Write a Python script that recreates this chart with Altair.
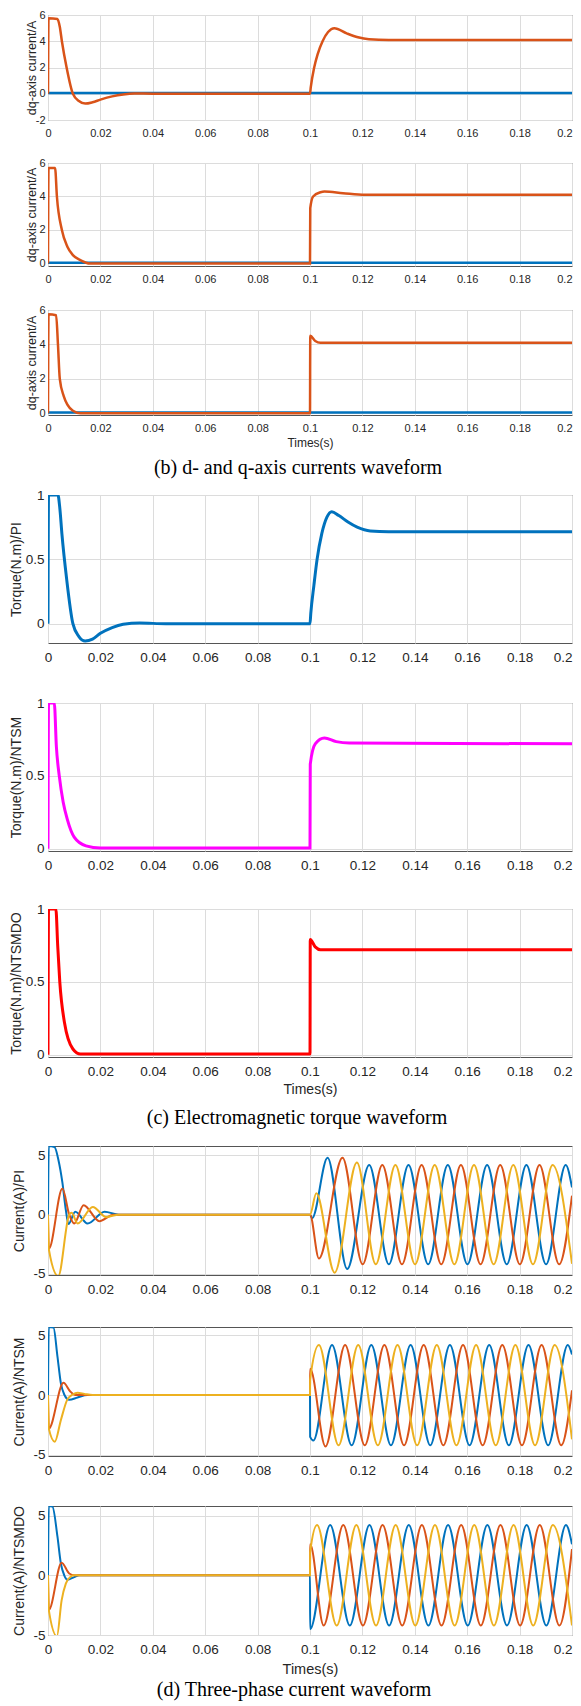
import altair as alt
import pandas as pd

# ---------------- data ----------------
X_TICKS = [0, 0.02, 0.04, 0.06, 0.08, 0.1, 0.12, 0.14, 0.16, 0.18, 0.2]

# (b) dq-axis currents: q-axis (orange) and d-axis (blue)
iq_pi_t = [0, 0.0002, 0.0036, 0.0045, 0.0053, 0.0071, 0.0095, 0.0118, 0.0142, 0.017, 0.02, 0.0245, 0.0287, 0.033, 0.04,
           0.1, 0.1003, 0.1016, 0.1029, 0.1048, 0.1069, 0.1093, 0.114, 0.1183, 0.1225, 0.13, 0.2]
iq_pi_v = [0, 5.75, 5.7, 5.1, 4.0, 2.0, 0.0, -0.55, -0.75, -0.65, -0.45, -0.2, -0.05, 0.02, 0.0,
           0.0, 0.5, 2.0, 3.0, 4.0, 4.7, 5.0, 4.6, 4.3, 4.15, 4.1, 4.1]
iq_ntsm_t = [0, 0.0002, 0.0027, 0.0034, 0.0053, 0.0074, 0.0095, 0.0124, 0.016, 0.1, 0.1001, 0.1012, 0.104, 0.1055, 0.1126, 0.121, 0.2]
iq_ntsm_v = [0, 5.7, 5.7, 4.0, 2.0, 1.0, 0.5, 0.2, 0.0, 0.0, 3.3, 4.0, 4.25, 4.3, 4.2, 4.1, 4.1]
iq_ntsmdo_t = [0, 0.0002, 0.0031, 0.0038, 0.0045, 0.006, 0.0074, 0.0095, 0.0124, 0.1, 0.1001, 0.102, 0.104, 0.2]
iq_ntsmdo_v = [0, 5.75, 5.7, 4.0, 2.0, 1.0, 0.5, 0.15, 0.0, 0.0, 4.5, 4.2, 4.1, 4.1]
id_t = [0, 0.2]
id_v = [0.05, 0.05]

# (c) electromagnetic torque
te_pi_t = [0, 0.0002, 0.0038, 0.0045, 0.0053, 0.0071, 0.0095, 0.0118, 0.0142, 0.017, 0.02, 0.0245, 0.0287, 0.035, 0.045,
           0.1, 0.1003, 0.1015, 0.1027, 0.1045, 0.1065, 0.1083, 0.111, 0.1145, 0.118, 0.123, 0.13, 0.2]
te_pi_v = [0, 1.0, 1.0, 0.9, 0.7, 0.35, 0.0, -0.1, -0.135, -0.12, -0.075, -0.03, -0.005, 0.005, 0.0,
           0.0, 0.08, 0.3, 0.5, 0.7, 0.83, 0.87, 0.84, 0.79, 0.75, 0.72, 0.715, 0.715]
te_ntsm_t = [0, 0.0002, 0.0024, 0.0032, 0.0043, 0.0058, 0.0074, 0.01, 0.0145, 0.02, 0.1, 0.1001, 0.102, 0.1055, 0.11, 0.115, 0.2]
te_ntsm_v = [0, 1.0, 1.0, 0.7, 0.5, 0.32, 0.2, 0.08, 0.02, 0.005, 0.005, 0.58, 0.72, 0.76, 0.735, 0.725, 0.72]
te_ntsmdo_t = [0, 0.0002, 0.003, 0.0037, 0.0045, 0.0063, 0.0095, 0.0124, 0.1, 0.1001, 0.102, 0.104, 0.2]
te_ntsmdo_v = [0, 1.0, 1.0, 0.75, 0.5, 0.22, 0.04, 0.005, 0.005, 0.79, 0.74, 0.72, 0.72]

# (d) three-phase currents (extrema)
ia_pi_t = [0, 0.0003, 0.0025, 0.004, 0.0055, 0.0068, 0.0078, 0.0104, 0.0151, 0.0216, 0.027, 0.1, 0.1008, 0.1067, 0.1142,
           0.1226, 0.1301, 0.1376, 0.1451, 0.1526, 0.1601, 0.1676, 0.1751, 0.1826, 0.1901, 0.1976, 0.2]
ia_pi_v = [0, 5.8, 5.7, 4.6, 2.7, 0.4, -0.8, 0.25, -0.75, 0.25, 0, 0, -0.3, 4.8, -4.6,
           4.2, -4.2, 4.2, -4.2, 4.2, -4.2, 4.2, -4.2, 4.2, -4.2, 4.2, 2.3]
ib_pi_t = [0, 0.0003, 0.0055, 0.0081, 0.01, 0.0136, 0.0196, 0.025, 0.1, 0.1034, 0.1124, 0.1201, 0.1276, 0.1351, 0.1426,
           0.1501, 0.1576, 0.1651, 0.1726, 0.1801, 0.1876, 0.1951, 0.2]
ib_pi_v = [0, -2.9, 2.2, 0.0, -0.75, 0.8, -0.55, 0, 0, -3.7, 4.8, -4.2, 4.2, -4.2, 4.2,
           -4.2, 4.2, -4.2, 4.2, -4.2, 4.2, -4.2, 1.6]
ic_pi_t = [0, 0.0003, 0.0039, 0.0081, 0.009, 0.0113, 0.0171, 0.0222, 0.027, 0.1, 0.1024, 0.1094, 0.1179, 0.1251, 0.1326,
           0.1401, 0.1476, 0.1551, 0.1626, 0.1701, 0.1776, 0.1851, 0.1926, 0.2]
ic_pi_v = [0, -2.9, -5.2, 0.0, 0.15, -0.75, 0.65, -0.2, 0, 0, 1.8, -4.9, 4.4, -4.2, 4.2,
           -4.2, 4.2, -4.2, 4.2, -4.2, 4.2, -4.2, 4.2, -4.15]

ia_ntsm_t = [0, 0.0003, 0.0021, 0.0036, 0.0049, 0.0062, 0.0081, 0.0113, 0.015, 0.1, 0.10005, 0.1013, 0.1084, 0.1159,
             0.1234, 0.1309, 0.1384, 0.1459, 0.1534, 0.1609, 0.1684, 0.1759, 0.1834, 0.1909, 0.1984, 0.2]
ia_ntsm_v = [0, 5.7, 5.65, 3.25, 1.0, 0.05, -0.4, -0.2, 0.0, 0.0, -3.5, -3.8, 4.2, -4.2,
             4.2, -4.2, 4.2, -4.2, 4.2, -4.2, 4.2, -4.2, 4.2, -4.2, 4.2, 3.4]
ib_ntsm_t = [0, 0.0003, 0.0059, 0.0085, 0.0105, 0.1, 0.10005, 0.1059, 0.1134, 0.1209, 0.1284, 0.1359, 0.1434, 0.1509,
             0.1584, 0.1659, 0.1734, 0.1809, 0.1884, 0.1959, 0.2]
ib_ntsm_v = [0, -2.8, 1.03, 0.3, 0.0, 0.0, 2.2, -4.3, 4.2, -4.2, 4.2, -4.2, 4.2, -4.2,
             4.2, -4.2, 4.2, -4.2, 4.2, -4.2, 0.4]
ic_ntsm_t = [0, 0.0003, 0.0026, 0.0049, 0.0074, 0.0094, 0.0113, 0.0139, 0.017, 0.1, 0.10005, 0.1034, 0.1109, 0.1184,
             0.1259, 0.1334, 0.1409, 0.1484, 0.1559, 0.1634, 0.1709, 0.1784, 0.1859, 0.1934, 0.2]
ic_ntsm_v = [0, -2.8, -3.9, -2.1, -0.36, 0.05, 0.2, 0.1, 0.0, 0.0, 1.3, 4.2, -4.2, 4.2,
             -4.2, 4.2, -4.2, 4.2, -4.2, 4.2, -4.2, 4.2, -4.2, 4.2, -3.7]

ia_ntsmdo_t = [0, 0.0003, 0.0017, 0.0036, 0.0049, 0.0062, 0.0074, 0.01, 0.012, 0.1, 0.10005, 0.1077, 0.1152, 0.1227,
               0.1302, 0.1377, 0.1452, 0.1527, 0.1602, 0.1677, 0.1752, 0.1827, 0.1902, 0.1977, 0.2]
ia_ntsmdo_v = [0, 5.8, 5.75, 3.25, 1.0, 0.0, -0.37, -0.15, 0.0, 0.0, -4.5, 4.2, -4.2, 4.2,
               -4.2, 4.2, -4.2, 4.2, -4.2, 4.2, -4.2, 4.2, -4.2, 4.2, 2.6]
ib_ntsmdo_t = [0, 0.0003, 0.0052, 0.0081, 0.01, 0.1, 0.10005, 0.1052, 0.1127, 0.1202, 0.1277, 0.1352, 0.1427, 0.1502,
               0.1577, 0.1652, 0.1727, 0.1802, 0.1877, 0.1952, 0.2]
ib_ntsmdo_v = [0, -2.9, 1.05, 0.15, 0.0, 0.0, 2.6, -4.2, 4.2, -4.2, 4.2, -4.2, 4.2, -4.2,
               4.2, -4.2, 4.2, -4.2, 4.2, -4.2, 2.2]
ic_ntsmdo_t = [0, 0.0003, 0.0034, 0.0052, 0.0068, 0.0087, 0.01, 0.1, 0.10005, 0.1027, 0.1102, 0.1177, 0.1252, 0.1327,
               0.1402, 0.1477, 0.1552, 0.1627, 0.1702, 0.1777, 0.1852, 0.1927, 0.2]
ic_ntsmdo_v = [0, -2.9, -5.1, -2.1, -0.7, -0.1, 0.0, 0.0, 1.9, 4.2, -4.2, 4.2, -4.2, 4.2,
               -4.2, 4.2, -4.2, 4.2, -4.2, 4.2, -4.2, 4.2, -4.2]

CAPTIONS = ["(b) d- and q-axis currents waveform",
            "(c) Electromagnetic torque waveform",
            "(d) Three-phase current waveform"]

BLUE, ORANGE, YELLOW, MAGENTA, RED = "#0072BD", "#D95319", "#EDB120", "#FF00FF", "#FF0000"
W = 524
TXT = "#262626"
FONT = "Liberation Sans"

STYLES = {
    "dq": dict(lab=11, yt=12.5, tx=-10, ylp=3, xlp=7, xt=12, xty=22),
    "te": dict(lab=13.5, yt=14, tx=-25, ylp=4, xlp=7, xt=14, xty=25),
    "ia": dict(lab=13.5, yt=14, tx=-22, ylp=3, xlp=7, xt=14.5, xty=27),
}

LAST_LABEL_ALIGN = {"condition": {"test": "datum.value >= 0.19", "value": "right"}, "value": "center"}


def panel(series, ydom, yticks, ytitle, height, style, xtitle=None):
    s = STYLES[style]
    xaxis_kw = dict(values=X_TICKS, labelExpr="'' + datum.value", grid=True, gridColor="#dcdcdc",
                    ticks=False, tickSize=0, domain=False, labelFontSize=s["lab"], labelPadding=s["xlp"],
                    labelFlush=False, labelOverlap=False, labelColor=TXT, labelFont=FONT,
                    labelAlign=LAST_LABEL_ALIGN)
    if xtitle:
        xaxis_kw.update(title=xtitle, titleFontSize=s["xt"], titleY=s["xty"], titleFont=FONT,
                        titleColor=TXT, titleFontWeight="normal")
    xaxis = alt.Axis(**xaxis_kw)
    yaxis = alt.Axis(values=yticks, labelExpr="'' + datum.value", grid=True, gridColor="#dcdcdc",
                     ticks=False, tickSize=0, domain=False, labelFontSize=s["lab"], labelPadding=s["ylp"],
                     labelColor=TXT, labelFont=FONT, labelFlush=False, labelOverlap=False,
                     title=ytitle, titleFontSize=s["yt"], titleX=s["tx"], titleY=height / 2,
                     titleFont=FONT, titleColor=TXT, titleFontWeight="normal")
    layers = []
    for t, v, color, sw in series:
        df = pd.DataFrame({"t": t, "v": v})
        xenc = alt.X("t:Q", scale=alt.Scale(domain=[0, 0.2], nice=False, zero=False), axis=xaxis,
                     title=xtitle if xtitle else None)
        yenc = alt.Y("v:Q", scale=alt.Scale(domain=ydom, nice=False, zero=False), axis=yaxis, title=ytitle)
        layers.append(alt.Chart(df).mark_line(color=color, strokeWidth=sw, interpolate="monotone", clip=True)
                      .encode(x=xenc, y=yenc))
    return alt.layer(*layers).properties(width=W, height=height,
                                         view=alt.ViewBackground(stroke="#555555", strokeWidth=1))


def spacer(height, caption=None, cx=250, cy=0):
    if caption:
        df = pd.DataFrame({"caption": [caption]})
        ch = alt.Chart(df).mark_text(font="Liberation Serif", fontSize=20, color="#000000",
                                     align="center", baseline="middle").encode(
            text="caption:N", x=alt.value(cx), y=alt.value(cy))
    else:
        df = pd.DataFrame({"caption": [""]})
        ch = alt.Chart(df).mark_text(opacity=0).encode(text="caption:N", x=alt.value(0), y=alt.value(0))
    return ch.properties(width=W, height=height, view=alt.ViewBackground(stroke="transparent"))


p1 = panel([(id_t, id_v, BLUE, 2.5), (iq_pi_t, iq_pi_v, ORANGE, 2.5)],
           [-2, 6], [-2, 0, 2, 4, 6], "dq-axis current/A", 105, "dq")
p2 = panel([(id_t, id_v, BLUE, 2.5), (iq_ntsm_t, iq_ntsm_v, ORANGE, 2.5)],
           [-0.15, 6], [0, 2, 4, 6], "dq-axis current/A", 103, "dq")
p3 = panel([(id_t, id_v, BLUE, 2.5), (iq_ntsmdo_t, iq_ntsmdo_v, ORANGE, 2.5)],
           [-0.1, 6], [0, 2, 4, 6], "dq-axis current/A", 105, "dq", xtitle="Times(s)")
p4 = panel([(te_pi_t, te_pi_v, BLUE, 3)], [-0.15, 1], [0, 0.5, 1], "Torque(N.m)/PI", 148, "te")
p5 = panel([(te_ntsm_t, te_ntsm_v, MAGENTA, 3)], [-0.015, 1], [0, 0.5, 1], "Torque(N.m)/NTSM", 148, "te")
p6 = panel([(te_ntsmdo_t, te_ntsmdo_v, RED, 3)], [-0.015, 1], [0, 0.5, 1], "Torque(N.m)/NTSMDO", 148, "te",
           xtitle="Times(s)")
p7 = panel([(ia_pi_t, ia_pi_v, BLUE, 2), (ib_pi_t, ib_pi_v, ORANGE, 2), (ic_pi_t, ic_pi_v, YELLOW, 2)],
           [-5.1, 5.8], [-5, 0, 5], "Current(A)/PI", 129, "ia")
p8 = panel([(ia_ntsm_t, ia_ntsm_v, BLUE, 2), (ib_ntsm_t, ib_ntsm_v, ORANGE, 2),
            (ic_ntsm_t, ic_ntsm_v, YELLOW, 2)],
           [-5.1, 5.7], [-5, 0, 5], "Current(A)/NTSM", 129, "ia")
p9 = panel([(ia_ntsmdo_t, ia_ntsmdo_v, BLUE, 2), (ib_ntsmdo_t, ib_ntsmdo_v, ORANGE, 2),
            (ic_ntsmdo_t, ic_ntsmdo_v, YELLOW, 2)],
           [-5.0, 5.8], [-5, 0, 5], "Current(A)/NTSMDO", 129, "ia", xtitle="Times(s)")

views = [p1, spacer(43), p2, spacer(44), p3, spacer(80, CAPTIONS[0], 250, 53),
         p4, spacer(60), p5, spacer(58), p6, spacer(89, CAPTIONS[1], 249, 61),
         p7, spacer(52), p8, spacer(50), p9, spacer(56, CAPTIONS[2], 246, 55)]

chart = alt.vconcat(*views, spacing=0, bounds="flush").properties(padding=0)

chart.save("out.html", embed_options={"renderer": "svg", "actions": False})
